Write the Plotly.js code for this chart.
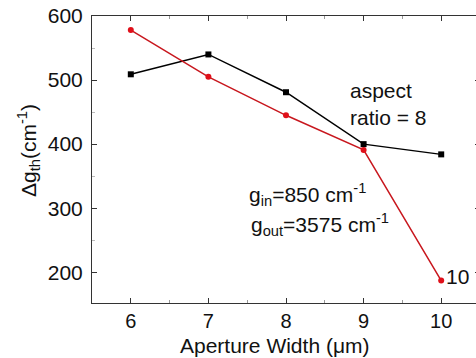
<!DOCTYPE html>
<html><head><meta charset="utf-8">
<script src="https://cdn.plot.ly/plotly-3.0.1.min.js"></script>
<style>html,body{margin:0;padding:0;overflow:hidden;background:#fff}</style>
</head><body><div id="c"></div>
<script>
const apertureWidth = [6, 7, 8, 9, 10];
const aspectRatio8 = [509, 540, 481, 400, 384];
const aspectRatio10 = [578, 505, 445, 391, 187];
const xTicks = [6, 7, 8, 9, 10];
const yTicks = [200, 300, 400, 500, 600];

const F = 'Liberation Sans, Arial, sans-serif';
const S = 21;
const traces = [
  {x: apertureWidth, y: aspectRatio8, mode: 'lines+markers', line: {color: '#000', width: 1.5},
   marker: {symbol: 'square', size: 6, color: '#000'}},
  {x: apertureWidth, y: aspectRatio10, mode: 'lines+markers', line: {color: '#c8171e', width: 1.5},
   marker: {symbol: 'circle', size: 6, color: '#e0101a'}}
];
const axisCommon = {showline: true, linecolor: '#333', linewidth: 1, mirror: 'ticks', ticks: 'inside',
  ticklen: 5, tickcolor: '#333', showgrid: false, zeroline: false,
  tickfont: {family: F, size: S, color: '#111'}};
const layout = {
  width: 486, height: 358, showlegend: false,
  margin: {l: 92, r: 6, t: 16, b: 55},
  paper_bgcolor: '#fff', plot_bgcolor: '#fff',
  xaxis: Object.assign({}, axisCommon, {range: [5.5, 10.5], tickvals: xTicks, ticklabelstandoff: 0,
    tickfont: {family: F, size: 20, color: '#111'},
    minor: {ticks: 'inside', ticklen: 3, dtick: 0.5, tickcolor: '#999'}}),
  yaxis: Object.assign({}, axisCommon, {range: [152, 600], tickvals: yTicks, ticklabelstandoff: 4,
    minor: {ticks: 'inside', ticklen: 3, dtick: 50, tickcolor: '#bbb'}}),
  annotations: [
    {text: 'Aperture Width (μm)', xref: 'paper', yref: 'paper', x: 0.47, y: -0.148, yanchor: 'middle', showarrow: false,
     font: {family: F, size: S, color: '#111'}},
    {text: 'Δg<sub>th</sub>(cm<sup>-1</sup>)', xref: 'paper', yref: 'paper', x: -0.165, y: 0.533, xanchor: 'center', yanchor: 'middle',
     textangle: -90, showarrow: false, font: {family: F, size: S, color: '#111'}},
    {text: 'aspect<br>ratio = 8', xref: 'x', yref: 'y', x: 8.8, y: 462, align: 'left', xanchor: 'left',
     showarrow: false, font: {family: F, size: S, color: '#111'}},
    {text: 'g<sub>in</sub>=850 cm<sup>-1</sup>', xref: 'x', yref: 'y', x: 7.5, y: 322, xanchor: 'left',
     showarrow: false, font: {family: F, size: S, color: '#111'}},
    {text: 'g<sub>out</sub>=3575 cm<sup>-1</sup>', xref: 'x', yref: 'y', x: 7.52, y: 274, xanchor: 'left',
     showarrow: false, font: {family: F, size: S, color: '#111'}},
    {text: '10', xref: 'x', yref: 'y', x: 10.03, y: 193, xanchor: 'left',
     showarrow: false, font: {family: F, size: S, color: '#111'}}
  ]
};
Plotly.newPlot('c', traces, layout, {staticPlot: true, displayModeBar: false});
</script></body></html>
